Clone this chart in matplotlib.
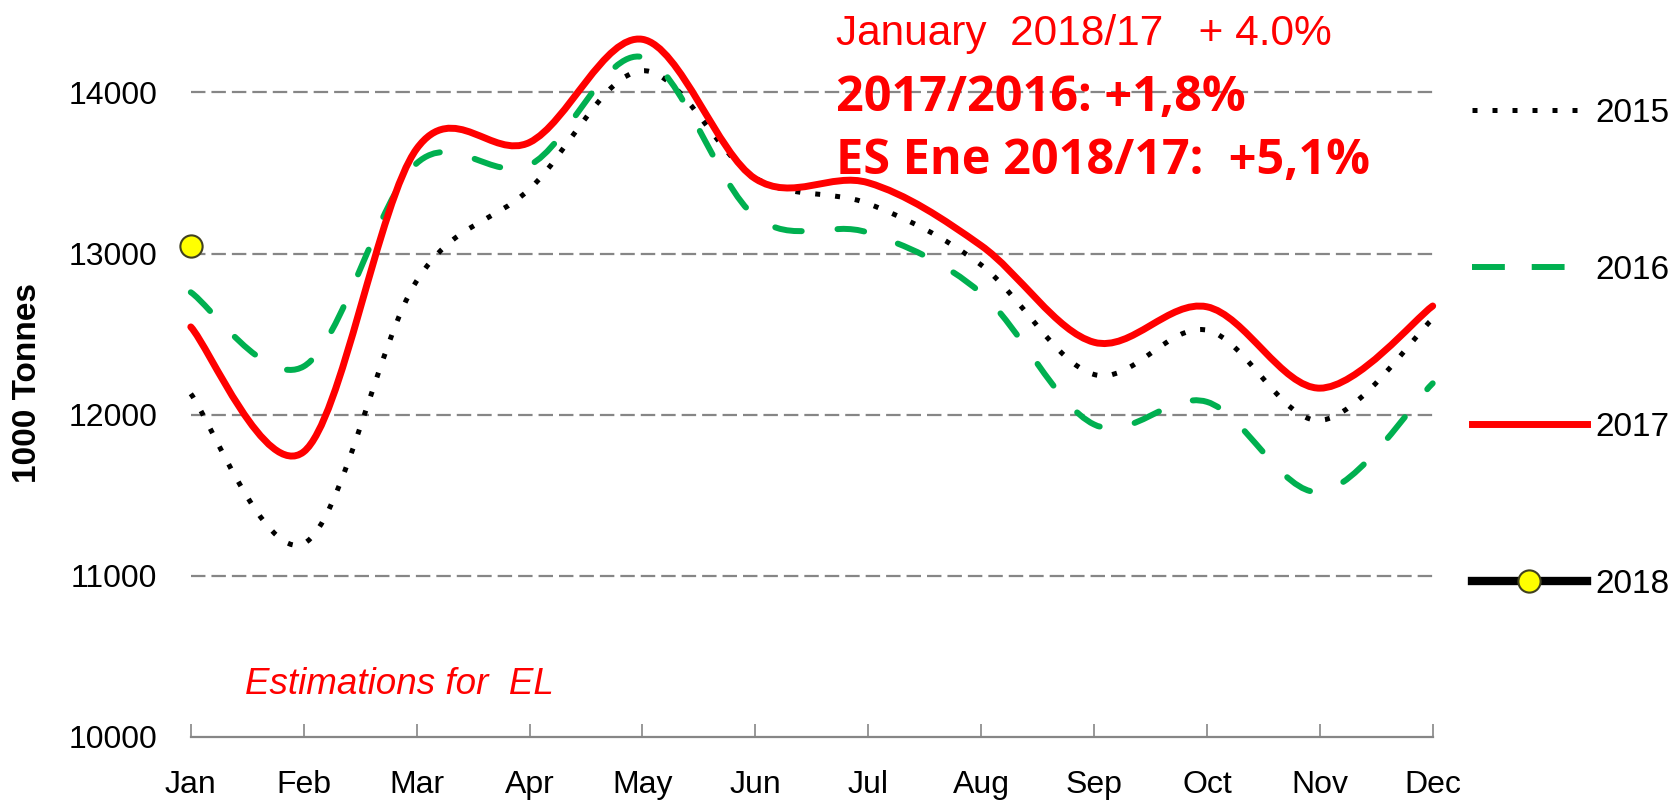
"""Monthly tonnes, 2015-2018, smoothed lines in the Excel style."""
import matplotlib

matplotlib.use("Agg")
import matplotlib.pyplot as plt
import numpy as np
from matplotlib.lines import Line2D
from matplotlib.patches import PathPatch
from matplotlib.path import Path

# data (1000 tonnes)
months = ["Jan", "Feb", "Mar", "Apr", "May", "Jun",
          "Jul", "Aug", "Sep", "Oct", "Nov", "Dec"]
tonnes_2015 = [12130, 11200, 12830, 13400, 14135, 13470,
               13310, 12930, 12250, 12525, 11965, 12595]
tonnes_2016 = [12760, 12300, 13560, 13550, 14220, 13230,
               13130, 12755, 11940, 12080, 11520, 12195]
tonnes_2017 = [12545, 11770, 13650, 13690, 14330, 13465,
               13440, 13050, 12450, 12670, 12165, 12675]
tonnes_2018 = [13050]
y_ticks = [10000, 11000, 12000, 13000, 14000]

notes = ["January  2018/17   + 4.0%", "2017/2016: +1,8%", "ES Ene 2018/17:  +5,1%"]

RED = "#ff0000"
GREEN = "#00b050"
GREY = "#868686"
FONT = "Liberation Sans"


def smooth_path(xs, ys):
    """Bezier path through the points, control points like Excel's smoothing."""
    xs = np.asarray(xs, dtype=float)
    ys = np.asarray(ys, dtype=float)
    n = len(xs)
    verts = [(xs[0], ys[0])]
    codes = [Path.MOVETO]
    for i in range(n - 1):
        prev = max(i - 1, 0)
        nxt = min(i + 2, n - 1)
        c1 = (xs[i] + (xs[i + 1] - xs[prev]) / 6, ys[i] + (ys[i + 1] - ys[prev]) / 6)
        c2 = (xs[i + 1] - (xs[nxt] - xs[i]) / 6, ys[i + 1] - (ys[nxt] - ys[i]) / 6)
        verts += [c1, c2, (xs[i + 1], ys[i + 1])]
        codes += [Path.CURVE4] * 3
    return Path(verts, codes)


fig = plt.figure(figsize=(16.74, 8.01), dpi=100)
ax = fig.add_axes([190.8 / 1674, 64 / 801, 1241.9 / 1674, 737 / 801])

x = np.arange(len(months))
styles = [
    (tonnes_2015, dict(color="black", lw=3.6, ls=(0, (1, 3)), capstyle="butt")),
    (tonnes_2016, dict(color=GREEN, lw=4.3, ls=(0, (4.5, 6)), capstyle="round")),
    (tonnes_2017, dict(color=RED, lw=5.0, ls="-", capstyle="round")),
]
for z, (values, st) in enumerate(styles):
    patch = PathPatch(smooth_path(x, values), facecolor="none", edgecolor=st["color"],
                      lw=st["lw"], linestyle=st["ls"], zorder=3 + z, clip_on=False)
    patch.set_capstyle(st["capstyle"])
    patch.set_joinstyle("round")
    ax.add_patch(patch)

ax.plot(x[:len(tonnes_2018)], tonnes_2018, color="black", lw=6, marker="o",
        markersize=16, markerfacecolor="#ffff00", markeredgecolor="#404020",
        markeredgewidth=1.5, zorder=7, clip_on=False)

ax.set_xlim(0, len(months) - 1)
ax.set_ylim(10000, 14574)
ax.set_xticks(x)
ax.set_xticklabels(months)
ax.set_yticks(y_ticks)
ax.set_yticklabels([str(v) for v in y_ticks])

for v in y_ticks[1:]:
    ax.axhline(v, color=GREY, lw=1.6, ls=(0, (6.5, 2.7)), zorder=1)

for side in ["left", "right", "top"]:
    ax.spines[side].set_visible(False)
ax.spines["bottom"].set_color(GREY)
ax.spines["bottom"].set_linewidth(1.6)
ax.tick_params(axis="x", direction="in", length=9.5, width=1.2, color=GREY,
               pad=24, labelsize=23)
ax.tick_params(axis="y", length=0, pad=24, labelsize=23)
for lab in ax.get_xticklabels() + ax.get_yticklabels():
    lab.set_fontfamily(FONT)

fig.text(27.5 / 1674, 1 - 383 / 801, "1000 Tonnes", rotation=90, ha="center",
         va="center", fontsize=24, fontweight="bold", family=FONT)

fig.text(836 / 1674, 1 - 45 / 801, notes[0], color=RED, fontsize=30.5,
         family=FONT, va="baseline")
fig.text(836 / 1674, 1 - 111 / 801, notes[1], color=RED, fontsize=35,
         family="Open Sans", fontweight="bold", va="baseline")
fig.text(836 / 1674, 1 - 174 / 801, notes[2], color=RED, fontsize=35,
         family="Open Sans", fontweight="bold", va="baseline")
fig.text(245.5 / 1674, 1 - 694 / 801, "Estimations for  EL", color=RED,
         fontsize=26.5, family=FONT, style="italic", va="baseline")

handles = [
    Line2D([], [], color="black", lw=3.6, ls=(0, (1, 3))),
    Line2D([], [], color=GREEN, lw=4.3, ls=(0, (5.5, 4.5)), solid_capstyle="round"),
    Line2D([], [], color=RED, lw=5.0),
    Line2D([], [], color="black", lw=6, marker="o", markersize=16,
           markerfacecolor="#ffff00", markeredgecolor="#404020", markeredgewidth=1.5),
]
fig.legend(handles, ["2015", "2016", "2017", "2018"], loc="upper left",
           bbox_to_anchor=(1472 / 1674, 1 - 98 / 801), frameon=False,
           borderpad=0, borderaxespad=0, handlelength=3.45, handletextpad=0.25,
           labelspacing=3.78, prop={"family": FONT, "size": 24})

fig.savefig("out.png", dpi=100)
plt.close(fig)
